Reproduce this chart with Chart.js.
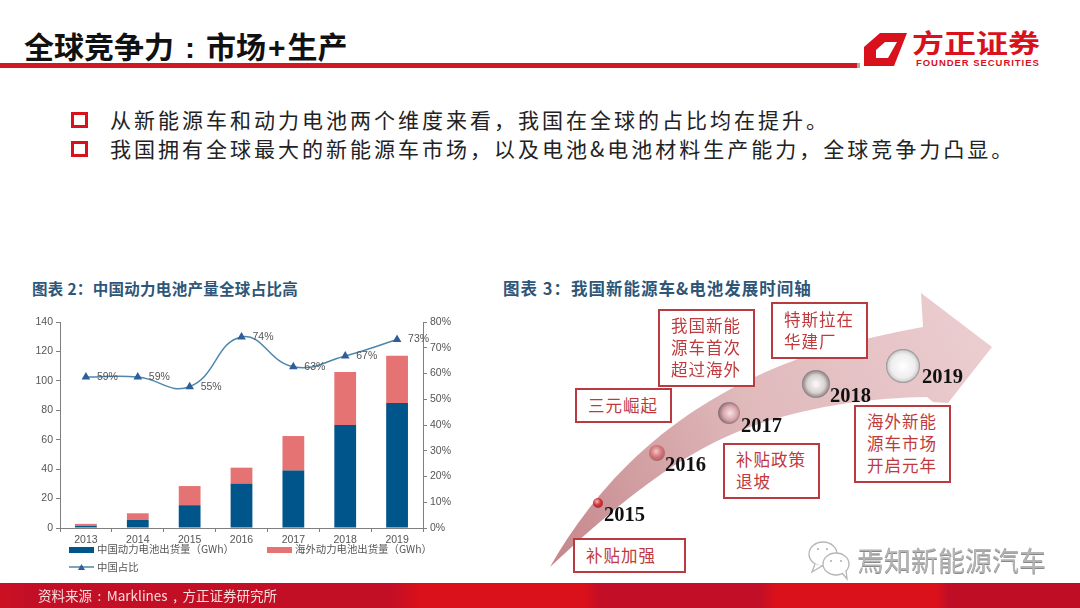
<!DOCTYPE html>
<html>
<head>
<meta charset="utf-8">
<script src="https://cdn.jsdelivr.net/npm/chart.js@4"></script>
<style>
  html, body { margin: 0; padding: 0; background: #fff; }
  body { width: 1080px; height: 608px; position: relative; overflow: hidden; font-family: "Noto Sans CJK SC", sans-serif; }
  .abs { position: absolute; white-space: nowrap; }
  .title { left: 24px; top: 24px; font-size: 30px; font-weight: 700; color: #111; line-height: 42px; }
  .title .colon { font-family: "Liberation Sans"; margin: 0 11px; }
  .title .plus { font-family: "Liberation Sans"; margin: 0 2px; }
  .bullet { left: 71px; width: 11px; height: 10px; border: 3px solid #d8111c; }
  .point { left: 110px; font-size: 21px; line-height: 30px; letter-spacing: 3px; color: #222; }
  .caption { top: 278px; line-height: 20px; font-weight: 700; color: #2e5678; }
  .box { position: absolute; box-sizing: border-box; border: 2px solid #b93b40; background: #fff; color: #c0393c;
         font-size: 16.5px; letter-spacing: 1px; line-height: 21.7px; padding-left: 11px; display: flex; align-items: center; white-space: pre; }
  .year { position: absolute; font-family: "Liberation Serif", serif; font-weight: 700; font-size: 20.5px; line-height: 22px; color: #111; }
  .legend { font-family: "Noto Sans CJK SC", sans-serif; font-size: 10.4px; line-height: 14px; color: #555; }
  .swatch { position: absolute; width: 25px; height: 6px; }
  #chartBox { position: absolute; left: 20px; top: 300px; width: 440px; height: 250px; }
</style>
</head>
<body>

<div class="abs title">全球竞争力<span class="colon">:</span>市场<span class="plus">+</span>生产</div>
<div class="abs" style="left:0;top:63px;width:857px;height:5px;background:#cf1a24"></div>
<div class="abs" style="left:857px;top:63px;width:3px;height:5px;background:#aaa"></div>

<svg class="abs" style="left:0;top:0" width="1080" height="80">
  <path fill-rule="evenodd" d="M864 47 L880 33 H907 L894 66 H864 Z M876 50 V58 H888 L897 42 H885 Z" fill="#d8111c"/>
</svg>
<div class="abs" style="left:912px;top:30px;font-size:32px;line-height:30px;font-weight:700;color:#d8111c;transform:scaleY(.8);transform-origin:0 0">方正证券</div>
<div class="abs" style="left:916px;top:58px;font-family:'Liberation Sans';font-size:9.5px;line-height:10px;font-weight:700;color:#d8111c;letter-spacing:.95px">FOUNDER SECURITIES</div>

<div class="abs bullet" style="top:112px"></div>
<div class="abs point" style="top:104px">从新能源车和动力电池两个维度来看，我国在全球的占比均在提升。</div>
<div class="abs bullet" style="top:141px"></div>
<div class="abs point" style="top:133px">我国拥有全球最大的新能源车市场，以及电池&amp;电池材料生产能力，全球竞争力凸显。</div>

<div class="abs caption" style="left:32px;font-size:15.5px;letter-spacing:.3px">图表 2：中国动力电池产量全球占比高</div>
<div class="abs caption" style="left:503px;font-size:16.5px;letter-spacing:1px">图表 3：我国新能源车&amp;电池发展时间轴</div>

<div id="chartBox"><canvas id="shipmentChart"></canvas></div>
<div id="legendBox"></div>

<svg class="abs" style="left:0;top:0" width="1080" height="608">
  <defs>
    <linearGradient id="arrowFill" x1="550" y1="567" x2="992" y2="348" gradientUnits="userSpaceOnUse">
      <stop offset="0" stop-color="#c4868a"/>
      <stop offset="0.5" stop-color="#e0b9bb"/>
      <stop offset="1" stop-color="#ebcdd0"/>
    </linearGradient>
    <radialGradient id="ball1" cx="0.4" cy="0.35" r="0.7">
      <stop offset="0" stop-color="#f5b5b5"/><stop offset="0.5" stop-color="#cc3a40"/><stop offset="1" stop-color="#a52a30"/>
    </radialGradient>
    <radialGradient id="ball2" cx="0.45" cy="0.4" r="0.6">
      <stop offset="0" stop-color="#f3c6c6"/><stop offset="0.6" stop-color="#d27378"/><stop offset="1" stop-color="#a8676a"/>
    </radialGradient>
    <radialGradient id="ball3" cx="0.55" cy="0.5" r="0.5">
      <stop offset="0" stop-color="#f6e3e4"/><stop offset="0.65" stop-color="#d9a5ac"/><stop offset="1" stop-color="#8f7478"/>
    </radialGradient>
    <radialGradient id="ball4" cx="0.5" cy="0.5" r="0.5">
      <stop offset="0" stop-color="#fbfbfb"/><stop offset="0.65" stop-color="#d8d0d0"/><stop offset="1" stop-color="#857d7d"/>
    </radialGradient>
    <radialGradient id="ball5" cx="0.5" cy="0.5" r="0.5">
      <stop offset="0" stop-color="#ffffff"/><stop offset="0.7" stop-color="#eeeeee"/><stop offset="0.88" stop-color="#d6d6d6"/><stop offset="1" stop-color="#8f8888"/>
    </radialGradient>
  </defs>
  <path d="M550 567 C585 505 640 440 720 395 C780 360 850 340 923 327 L921 293 L992 347 L948 403 L933 402 L927 397 C860 398 780 410 715 442 C650 475 595 525 550 567 Z" fill="url(#arrowFill)"/>
  <circle cx="598" cy="503" r="5" fill="url(#ball1)"/>
  <circle cx="657" cy="453" r="8" fill="url(#ball2)"/>
  <circle cx="729" cy="413" r="11" fill="url(#ball3)"/>
  <circle cx="816" cy="384" r="14" fill="url(#ball4)"/>
  <circle cx="903" cy="366" r="17" fill="url(#ball5)"/>
</svg>

<div class="year" style="left:604px;top:503px">2015</div>
<div class="year" style="left:665px;top:453px">2016</div>
<div class="year" style="left:741px;top:414px">2017</div>
<div class="year" style="left:830px;top:384px">2018</div>
<div class="year" style="left:922px;top:365px">2019</div>

<div class="box" style="left:575px;top:388px;width:97px;height:35px">三元崛起</div>
<div class="box" style="left:658px;top:309px;width:97px;height:78px">我国新能
源车首次
超过海外</div>
<div class="box" style="left:771px;top:302px;width:97px;height:57px">特斯拉在
华建厂</div>
<div class="box" style="left:723px;top:443px;width:97px;height:56px">补贴政策
退坡</div>
<div class="box" style="left:854px;top:405px;width:97px;height:78px">海外新能
源车市场
开启元年</div>
<div class="box" style="left:573px;top:538px;width:113px;height:35px">补贴加强</div>

<svg class="abs" style="left:806px;top:540px" width="50" height="42" fill="#fff" stroke="#b5b5b5" stroke-width="1.3">
  <ellipse cx="17" cy="14" rx="14" ry="12"/>
  <path d="M9 24 L6 32 L16 26"/>
  <ellipse cx="30" cy="24" rx="13" ry="11"/>
  <path d="M36 33 L41 39 L40 30"/>
  <circle cx="12" cy="9" r="1" fill="#aaa" stroke="none"/>
  <circle cx="21" cy="9" r="1" fill="#aaa" stroke="none"/>
  <circle cx="25" cy="21" r="1" fill="#aaa" stroke="none"/>
  <circle cx="35" cy="21" r="1" fill="#aaa" stroke="none"/>
</svg>
<div class="abs" style="left:857px;top:542px;font-size:27px;line-height:36px;color:#b4b4b4;text-shadow:0 1px 0 #888">焉知新能源汽车</div>

<div class="abs" style="left:0;top:583px;width:1080px;height:25px;background:linear-gradient(90deg,#cc1022 0,#c20f26 30px,#c20f26 390px,#da101a 420px,#da101a 585px,#c20e26 600px,#c20e26 760px,#da101a 775px,#da101a 938px,#c00d26 948px,#c00d26 100%)"></div>
<div class="abs" style="left:38px;top:585px;font-size:13.5px;line-height:20px;color:#f8dcdc;word-spacing:2.5px">资料来源 : Marklines , 方正证券研究所</div>

<script>
const categories = ["2013", "2014", "2015", "2016", "2017", "2018", "2019"];
const chinaShipments = [1.5, 5.5, 15.5, 30, 39, 70, 85];
const overseasShipments = [1.3, 4.5, 13, 11, 23.5, 36, 32];
const chinaShare = [58.6, 58.6, 54.9, 74.2, 62.6, 66.8, 73.2];

const leftTicks = [0, 20, 40, 60, 80, 100, 120, 140];
const rightTicks = [0, 10, 20, 30, 40, 50, 60, 70, 80];

const seriesNames = ["中国动力电池出货量（GWh）", "海外动力电池出货量（GWh）", "中国占比"];
const navy = "#00558a";
const salmon = "#e57373";
const lineBlue = "#4f86ab";
const markerBlue = "#2f5f9a";
const axisGrey = "#7f7f7f";
const textGrey = "#555";

// percent labels to the right of each point
const shareLabels = {
  id: "shareLabels",
  afterDatasetsDraw(chart) {
    const meta = chart.getDatasetMeta(2);
    const c = chart.ctx;
    c.save();
    c.font = "10.5px 'Liberation Sans'";
    c.fillStyle = textGrey;
    c.textBaseline = "middle";
    meta.data.forEach((pt, i) => {
      c.fillText(Math.round(chinaShare[i]) + "%", pt.x + 11, pt.y);
    });
    c.restore();
  },
};

const tickFont = { family: "Liberation Sans", size: 10.5 };

const ctx = document.getElementById("shipmentChart").getContext("2d");

const shipmentChart = new Chart(ctx, {
  data: {
    labels: categories,
    datasets: [
      {
        type: "bar",
        label: seriesNames[0],
        data: chinaShipments,
        backgroundColor: navy,
        yAxisID: "y",
        stack: "shipments",
        order: 2,
        categoryPercentage: 1,
        barPercentage: 0.42,
      },
      {
        type: "bar",
        label: seriesNames[1],
        data: overseasShipments,
        backgroundColor: salmon,
        yAxisID: "y",
        stack: "shipments",
        order: 2,
        categoryPercentage: 1,
        barPercentage: 0.42,
      },
      {
        type: "line",
        label: seriesNames[2],
        data: chinaShare,
        borderColor: lineBlue,
        borderWidth: 1.5,
        pointStyle: "triangle",
        pointRadius: 3.5,
        pointBackgroundColor: markerBlue,
        pointBorderColor: markerBlue,
        cubicInterpolationMode: "default",
        tension: 0.45,
        yAxisID: "y1",
        order: 1,
      },
    ],
  },
  options: {
    responsive: true,
    maintainAspectRatio: false,
    animation: false,
    layout: { padding: { top: 22 } },
    plugins: {
      legend: { display: false },
      tooltip: { enabled: false },
    },
    scales: {
      x: {
        stacked: true,
        offset: true,
        afterFit: (s) => { s.height = 22; },
        grid: { drawOnChartArea: false, tickLength: 4, color: axisGrey },
        border: { color: axisGrey },
        ticks: { color: textGrey, font: tickFont, padding: 2, maxRotation: 0 },
      },
      y: {
        stacked: true,
        position: "left",
        min: 0,
        max: 140,
        afterFit: (s) => { s.width = 40; },
        afterBuildTicks: (s) => { s.ticks = leftTicks.map((v) => ({ value: v })); },
        grid: { drawOnChartArea: false, tickLength: 4, color: axisGrey },
        border: { color: axisGrey },
        ticks: { color: textGrey, font: tickFont, padding: 3 },
      },
      y1: {
        position: "right",
        min: 0,
        max: 80,
        afterFit: (s) => { s.width = 37; },
        afterBuildTicks: (s) => { s.ticks = rightTicks.map((v) => ({ value: v })); },
        grid: { drawOnChartArea: false, tickLength: 4, color: axisGrey },
        border: { color: axisGrey },
        ticks: {
          color: textGrey,
          font: tickFont,
          padding: 3,
          callback: (v) => v + "%",
        },
      },
    },
  },
  plugins: [shareLabels],
});

// legend sits in two rows under the axis, simpler as html
const legendBox = document.getElementById("legendBox");
legendBox.innerHTML =
  '<div class="abs swatch" style="left:69px;top:547px;background:' + navy + '"></div>' +
  '<div class="abs legend" style="left:97px;top:542px">' + seriesNames[0] + "</div>" +
  '<div class="abs swatch" style="left:267px;top:547px;background:' + salmon + '"></div>' +
  '<div class="abs legend" style="left:295px;top:542px">' + seriesNames[1] + "</div>" +
  '<svg class="abs" style="left:69px;top:561px" width="25" height="12"><line x1="0" y1="6" x2="25" y2="6" stroke="' + lineBlue + '" stroke-width="1.5"/><path d="M12.5 3 L16 9 H9 Z" fill="' + markerBlue + '"/></svg>' +
  '<div class="abs legend" style="left:97px;top:560px">' + seriesNames[2] + "</div>";
</script>
</body>
</html>
